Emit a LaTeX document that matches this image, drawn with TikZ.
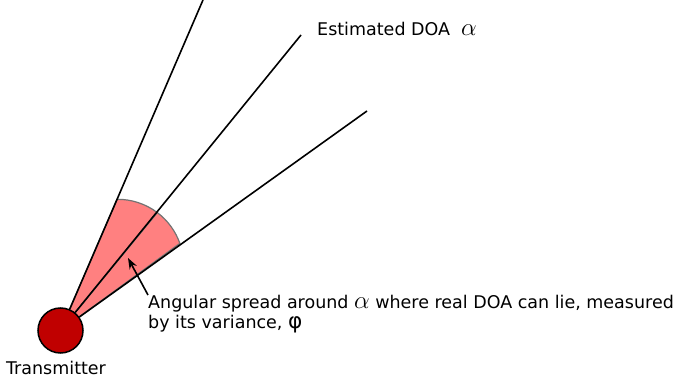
\documentclass[tikz,border=0pt]{standalone}
\usepackage{fontspec}
\setmainfont{DejaVu Sans}
\usepackage{tikz}
\usetikzlibrary{arrows.meta, positioning}

\definecolor{txred}{RGB}{192,0,0}
\definecolor{spreadpink}{RGB}{255,128,128}

\newcommand{\bigalpha}{{\fontsize{24}{24}\selectfont$\alpha$}}
\newcommand{\bigphi}{\smash{\fontsize{21.6}{21.6}\selectfont φ}}

\begin{document}
\begin{tikzpicture}[
        x=1pt, y=1pt,
        every node/.style={font=\fontsize{17.5}{20}\selectfont, inner sep=0pt},
        txnode/.style={circle, draw=black, line width=1.5pt, fill=txred, minimum size=45pt},
        ray/.style={line width=1.6pt},
        sector/.style={fill=spreadpink, draw=black!55, line width=1.2pt},
        arrow/.style={-{Stealth[length=11pt, width=8pt]}, line width=1.6pt}
    ]
    \useasboundingbox (0,0) rectangle (677,385);

    % Coordinates
    \coordinate (o) at (60.5,54.5);
    \coordinate (ac) at (117.6,119.7);
    \coordinate (e1) at (203,385);
    \coordinate (e2) at (301,350);
    \coordinate (e3) at (367,274);
    \coordinate (tip) at (128,127);

    % Spread
    \draw[sector] (o) -- ([shift={(90.5:66)}]ac) arc[start angle=90.5, end angle=53, radius=66] -- cycle;
    \draw[sector] (o) -- ([shift={(53:66)}]ac) arc[start angle=53, end angle=19.4, radius=66] -- cycle;

    % Nodes
    \node[txnode] (tx) at (o) {};
    \node[anchor=base] (txlabel) at (56,10) {Transmitter};
    \node[anchor=base west] (doa) at (317,349) {Estimated DOA\ \ \bigalpha};
    \node[anchor=north west, align=left] (spread) at (148,90)
        {Angular spread around \bigalpha\ where real DOA can lie, measured\\by its variance, \bigphi};

    % Rays
    \draw[ray] (tx) -- (e1);
    \draw[ray] (tx) -- (e2);
    \draw[ray] (tx) -- (e3);

    % Arrows
    \draw[arrow] (spread.north west) -- (tip);

\end{tikzpicture}
\end{document}
